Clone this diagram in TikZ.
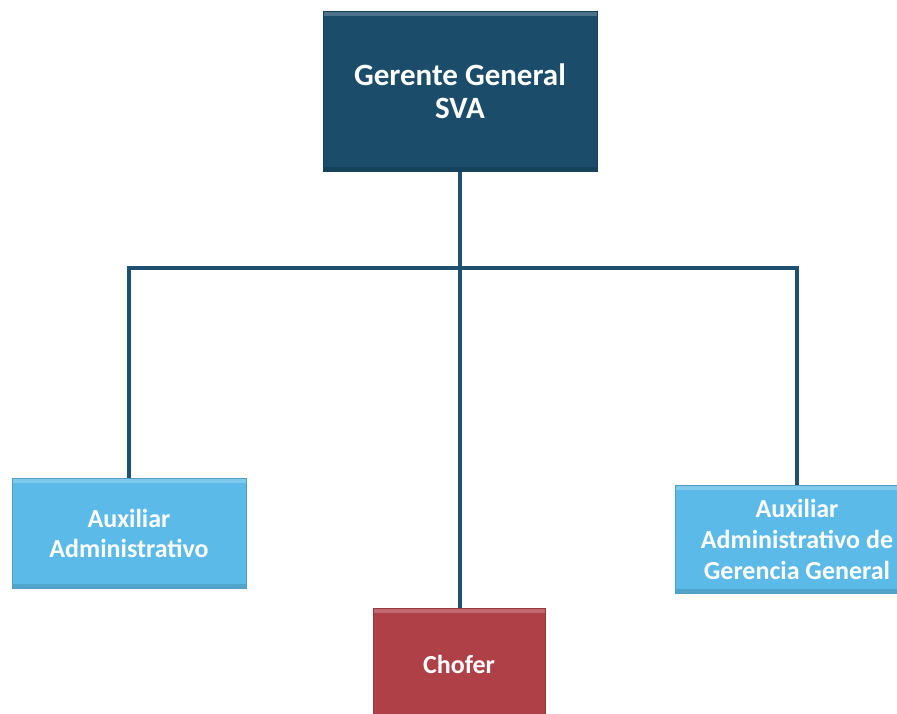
\documentclass[tikz,border=0pt]{standalone}
\usepackage{fontspec}
\setmainfont{Carlito}

\definecolor{ggblue}{RGB}{27,76,106}
\definecolor{auxblue}{RGB}{92,186,232}
\definecolor{chofred}{RGB}{176,64,72}
\definecolor{linea}{RGB}{30,80,112}

\tikzset{
  puesto/.style={fill=#1, draw=#1!85!black, line width=1pt, text=white,
    font=\bfseries, align=center, inner sep=0pt,
    path picture={\fill[white,opacity=0.22] (path picture bounding box.north west)
      rectangle ([yshift=-5pt]path picture bounding box.north east);
      \fill[black,opacity=0.12] (path picture bounding box.south west)
      rectangle ([yshift=4pt]path picture bounding box.south east);}},
  conn/.style={draw=linea, line width=3.2pt}
}

\begin{document}
\begin{tikzpicture}[x=1pt,y=-1pt]

\useasboundingbox (0,0) rectangle (897,713);

\node[puesto=ggblue, minimum width=274pt, minimum height=160pt,
  font=\bfseries\fontsize{31}{33}\selectfont] (gg) at (460,91) {Gerente General\\SVA};

\node[puesto=auxblue, minimum width=234pt, minimum height=110pt,
  font=\bfseries\fontsize{26}{30}\selectfont] (aux) at (129,533) {Auxiliar\\Administrativo};

\node[puesto=auxblue, minimum width=244pt, minimum height=108pt,
  font=\bfseries\fontsize{26}{31}\selectfont] (auxgg) at (797,539) {Auxiliar\\Administrativo de\\Gerencia General};

\node[puesto=chofred, minimum width=172pt, minimum height=112pt,
  font=\bfseries\fontsize{26}{30}\selectfont] (chofer) at (459,664) {Chofer};

% barra horizontal
\coordinate (bus) at (461,268);

\draw[conn] (gg.south) -- (gg.south |- bus);
\draw[conn] (aux.north) |- (bus) -| (auxgg.north);
\draw[conn] (gg.south |- bus) -- (gg.south |- chofer.north);

\end{tikzpicture}
\end{document}
